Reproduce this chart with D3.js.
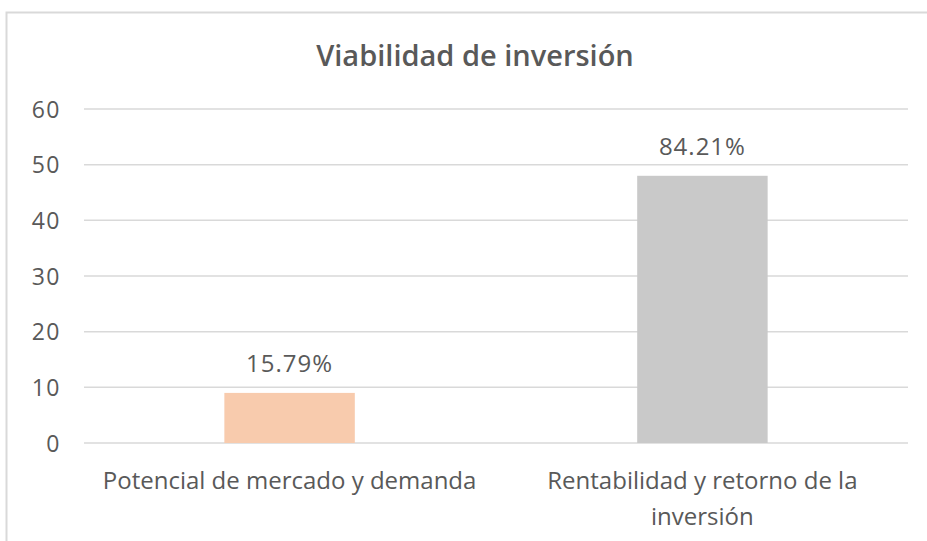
<!DOCTYPE html>
<html>
<head>
<meta charset="utf-8">
<script src="https://cdn.jsdelivr.net/npm/d3@7"></script>
<style>
  body { margin: 0; background: #fff; }
  text { font-family: "Open Sans", sans-serif; fill: #595959; }
</style>
</head>
<body>
<div id="container"></div>
<script>
/* CONSTANTS AND GLOBALS */
const width = 927,
  height = 541,
  margin = { top: 109, bottom: 98, left: 84, right: 19 };

/* DATA */
const categories = ["Potencial de mercado y demanda", "Rentabilidad y retorno de la inversión"];
const values = [9, 48];
const valueLabels = ["15.79%", "84.21%"];
const barColors = ["#F8CBAD", "#C9C9C9"];
const yTicks = [0, 10, 20, 30, 40, 50, 60];

// category label lines (Excel wraps the second one)
const categoryLines = [
  ["Potencial de mercado y demanda"],
  ["Rentabilidad y retorno de la", "inversión"]
];

const svg = d3.select("#container")
  .append("svg")
  .attr("width", width)
  .attr("height", height);

// chart frame
svg.append("rect")
  .attr("x", 6.5)
  .attr("y", 12.5)
  .attr("width", width + 10)
  .attr("height", height + 10)
  .attr("fill", "none")
  .attr("stroke", "#d9d9d9")
  .attr("stroke-width", 2);

// + SCALES
const xScale = d3.scaleBand()
  .domain(categories)
  .range([margin.left, width - margin.right])
  .paddingInner(0.684)
  .paddingOuter(0.34);

const yScale = d3.scaleLinear()
  .domain([0, 60])
  .range([height - margin.bottom, margin.top]);

// gridlines
svg.append("g")
  .selectAll("line")
  .data(yTicks)
  .join("line")
  .attr("x1", margin.left)
  .attr("x2", width - margin.right)
  .attr("y1", d => yScale(d))
  .attr("y2", d => yScale(d))
  .attr("stroke", "#d9d9d9")
  .attr("stroke-width", 1.5);

// + AXES (labels only)
const yAxis = d3.axisLeft(yScale)
  .tickValues(yTicks)
  .tickSize(0)
  .tickPadding(0);

const yG = svg.append("g")
  .attr("transform", `translate(61,0)`)
  .call(yAxis);
yG.select(".domain").remove();
yG.selectAll("text")
  .attr("dy", "0.36em")
  .style("font-size", "23px")
  .style("letter-spacing", "1.5px")
  .style("fill", "#595959")
  .style("font-family", "'Open Sans', sans-serif");

// bars
svg.append("g")
  .selectAll("rect")
  .data(categories)
  .join("rect")
  .attr("x", d => xScale(d))
  .attr("width", xScale.bandwidth())
  .attr("y", (d, i) => yScale(values[i]))
  .attr("height", (d, i) => yScale(0) - yScale(values[i]))
  .attr("fill", (d, i) => barColors[i]);

// value labels
svg.append("g")
  .selectAll("text")
  .data(categories)
  .join("text")
  .attr("x", d => xScale(d) + xScale.bandwidth() / 2)
  .attr("y", (d, i) => yScale(values[i]) - 21)
  .attr("text-anchor", "middle")
  .style("font-size", "24px")
  .style("letter-spacing", "1px")
  .text((d, i) => valueLabels[i]);

// category labels
const catG = svg.append("g")
  .selectAll("text")
  .data(categories)
  .join("text")
  .attr("x", d => xScale(d) + xScale.bandwidth() / 2)
  .attr("y", height - margin.bottom + 46)
  .attr("text-anchor", "middle")
  .style("font-size", "24px");

catG.selectAll("tspan")
  .data((d, i) => categoryLines[i])
  .join("tspan")
  .attr("x", function () { return d3.select(this.parentNode).attr("x"); })
  .attr("dy", (d, i) => i === 0 ? 0 : 36)
  .text(d => d);

// title
svg.append("text")
  .attr("x", 475)
  .attr("y", 66)
  .attr("text-anchor", "middle")
  .style("font-size", "29px")
  .style("font-weight", 600)
  .text("Viabilidad de inversión");
</script>
</body>
</html>
